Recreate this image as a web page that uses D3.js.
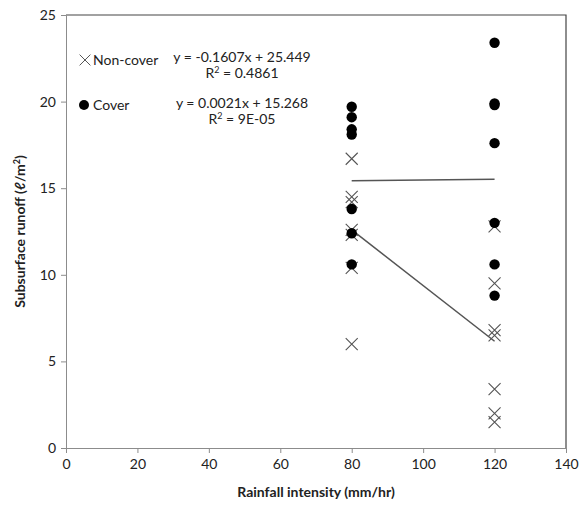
<!DOCTYPE html>
<html>
<head>
<meta charset="utf-8">
<script src="https://cdn.jsdelivr.net/npm/d3@7"></script>
<style>
body { margin: 0; background: #fff; }
text { font-family: Lato, "Open Sans", sans-serif; fill: #222; }
</style>
</head>
<body>
<div id="chart"></div>
<script>
// values
var nonCover80 = [16.7, 14.5, 14.2, 12.6, 12.3, 10.4, 6.0];
var nonCover120 = [12.8, 9.5, 6.8, 6.5, 3.4, 2.0, 1.5];
var cover80 = [19.7, 19.1, 18.4, 18.1, 13.8, 12.4, 10.6];
var cover120 = [23.4, 19.9, 19.8, 17.6, 13.0, 10.6, 8.8];
var intensities = [80, 120];
var xTicks = [0, 20, 40, 60, 80, 100, 120, 140];
var yTicks = [0, 5, 10, 15, 20, 25];
// trend lines as printed on the chart
var nonCoverFit = { slope: -0.1607, intercept: 25.449, label: "y = -0.1607x + 25.449", r2: "0.4861" };
var coverFit = { slope: 0.0021, intercept: 15.268, label: "y = 0.0021x + 15.268", r2: "9E-05" };

var margin = { top: 15, right: 22, bottom: 57, left: 66 },
    width = 588 - margin.left - margin.right,
    height = 505 - margin.top - margin.bottom;

var svg = d3.select("#chart").append("svg")
    .attr("width", 588)
    .attr("height", 505);

var g = svg.append("g")
    .attr("transform", "translate(" + margin.left + "," + margin.top + ")");

var x = d3.scaleLinear().domain([0, 140]).range([0, width]);
var y = d3.scaleLinear().domain([0, 25]).range([height, 0]);

// plot border (top and right)
g.append("path")
    .attr("d", "M0,0H" + width + "V" + height)
    .attr("fill", "none")
    .attr("stroke", "#444")
    .attr("stroke-width", 1.2);

var xAxis = g.append("g")
    .attr("transform", "translate(0," + height + ")")
    .call(d3.axisBottom(x).tickValues(xTicks).tickSize(5).tickPadding(6));
var yAxis = g.append("g")
    .call(d3.axisLeft(y).tickValues(yTicks).tickSize(5).tickPadding(5));

[xAxis, yAxis].forEach(function(a) {
    a.selectAll("path, line").attr("stroke", "#8c8c8c");
    a.selectAll("text").style("font-size", "14px").attr("fill", "#404040")
        .style("font-family", "Lato, 'Open Sans', sans-serif");
});

// flatten points
function pts(arr, xv) {
    return arr.map(function(v) { return { x: xv, y: v }; });
}
var nonCover = pts(nonCover80, intensities[0]).concat(pts(nonCover120, intensities[1]));
var cover = pts(cover80, intensities[0]).concat(pts(cover120, intensities[1]));

// trend lines
[nonCoverFit, coverFit].forEach(function(f) {
    var line = intensities.map(function(xv) { return [xv, f.slope * xv + f.intercept]; });
    g.append("path")
        .attr("d", d3.line().x(function(d) { return x(d[0]); }).y(function(d) { return y(d[1]); })(line))
        .attr("stroke", "#555")
        .attr("stroke-width", 1.5)
        .attr("fill", "none");
});

var cs = 6;
function drawCross(sel) {
    sel.append("path")
        .attr("d", "M" + -cs + "," + -cs + "L" + cs + "," + cs + "M" + cs + "," + -cs + "L" + -cs + "," + cs)
        .attr("stroke", "#555")
        .attr("stroke-width", 1.1)
        .attr("fill", "none");
}

g.selectAll(".nc").data(nonCover).enter().append("g")
    .attr("class", "nc")
    .attr("transform", function(d) { return "translate(" + x(d.x) + "," + y(d.y) + ")"; })
    .call(drawCross);

g.selectAll(".cv").data(cover).enter().append("circle")
    .attr("class", "cv")
    .attr("cx", function(d) { return x(d.x); })
    .attr("cy", function(d) { return y(d.y); })
    .attr("r", 5.2)
    .attr("fill", "#000");

// legend + equations
var leg = svg.append("g");
var nc = leg.append("g").attr("transform", "translate(85,60)");
nc.call(drawCross);
nc.select("path").attr("transform", "scale(0.9)");
leg.append("text").attr("x", 93).attr("y", 65).style("font-size", "14px").text("Non-cover");
leg.append("circle").attr("cx", 84).attr("cy", 105).attr("r", 5).attr("fill", "#000");
leg.append("text").attr("x", 93).attr("y", 110).style("font-size", "14px").text("Cover");

var eqs = [{ f: nonCoverFit, y: 62 }, { f: coverFit, y: 108 }];
eqs.forEach(function(e) {
    leg.append("text").attr("x", 242).attr("y", e.y).attr("text-anchor", "middle")
        .style("font-size", "14px").text(e.f.label);
    var t = leg.append("text").attr("x", 242).attr("y", e.y + 16).attr("text-anchor", "middle")
        .style("font-size", "14px");
    t.append("tspan").text("R");
    t.append("tspan").attr("dy", -5).style("font-size", "9px").text("2");
    t.append("tspan").attr("dy", 5).text(" = " + e.f.r2);
});

// axis titles
svg.append("text")
    .attr("x", margin.left + width / 2)
    .attr("y", 497)
    .attr("text-anchor", "middle")
    .style("font-size", "14px")
    .style("font-weight", "bold")
    .text("Rainfall intensity (mm/hr)");

var yt = svg.append("text")
    .attr("transform", "translate(25," + (margin.top + height / 2) + ") rotate(-90)")
    .attr("text-anchor", "middle")
    .style("font-size", "14px")
    .style("font-weight", "bold");
yt.append("tspan").text("Subsurface runoff (ℓ/m");
yt.append("tspan").attr("dy", -5).style("font-size", "9px").text("2");
yt.append("tspan").attr("dy", 5).text(")");
</script>
</body>
</html>
